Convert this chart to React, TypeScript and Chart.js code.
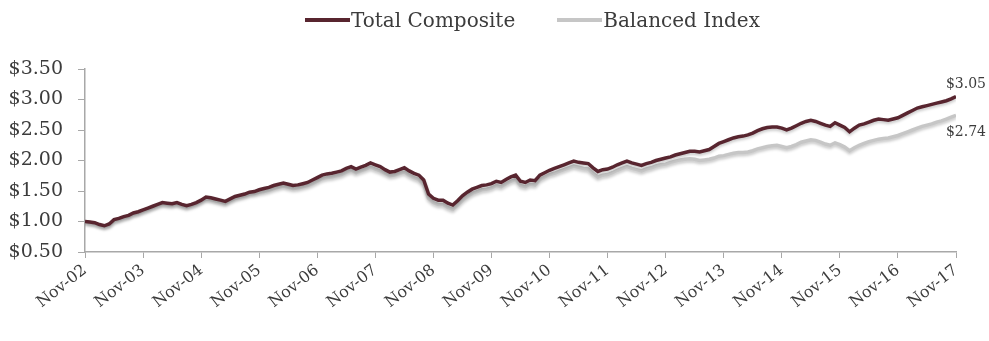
import React, { useEffect, useRef } from "react";
import { Chart, registerables } from "chart.js";

Chart.register(...registerables);

const tickLabels = [
  "Nov-02", "Nov-03", "Nov-04", "Nov-05", "Nov-06", "Nov-07", "Nov-08", "Nov-09",
  "Nov-10", "Nov-11", "Nov-12", "Nov-13", "Nov-14", "Nov-15", "Nov-16", "Nov-17",
];

const seriesNames = ["Total Composite", "Balanced Index"];
const endLabels = ["$3.05", "$2.74"];

// monthly values, Nov-02 .. Nov-17
const totalComposite = [
  1.00, 0.99, 0.98, 0.95, 0.93, 0.96, 1.03, 1.05, 1.08, 1.10, 1.14, 1.16, 1.19,
  1.22, 1.25, 1.28, 1.31, 1.30, 1.29, 1.31, 1.28, 1.26, 1.28, 1.31, 1.35,
  1.40, 1.39, 1.37, 1.35, 1.33, 1.37, 1.41, 1.43, 1.45, 1.48, 1.49, 1.52,
  1.54, 1.56, 1.59, 1.61, 1.63, 1.61, 1.59, 1.60, 1.62, 1.64, 1.68, 1.72,
  1.76, 1.78, 1.79, 1.81, 1.83, 1.87, 1.90, 1.86, 1.89, 1.92, 1.96, 1.93,
  1.90, 1.85, 1.81, 1.82, 1.85, 1.88, 1.83, 1.79, 1.76, 1.68, 1.45, 1.38,
  1.35, 1.35, 1.30, 1.27, 1.34, 1.42, 1.48, 1.53, 1.56, 1.59, 1.60, 1.62,
  1.66, 1.64, 1.69, 1.73, 1.76, 1.66, 1.64, 1.68, 1.67, 1.76, 1.80, 1.84,
  1.87, 1.90, 1.93, 1.96, 1.99, 1.97, 1.96, 1.95, 1.88, 1.82, 1.85, 1.86,
  1.89, 1.93, 1.96, 1.99, 1.96, 1.94, 1.92, 1.95, 1.97, 2.00, 2.02, 2.04,
  2.06, 2.09, 2.11, 2.13, 2.15, 2.15, 2.14, 2.16, 2.18, 2.23, 2.28, 2.31,
  2.34, 2.37, 2.39, 2.40, 2.42, 2.45, 2.49, 2.52, 2.54, 2.55, 2.55, 2.53,
  2.50, 2.53, 2.57, 2.61, 2.64, 2.66, 2.64, 2.61, 2.58, 2.56, 2.62, 2.58,
  2.54, 2.47, 2.53, 2.58, 2.60, 2.63, 2.66, 2.68, 2.67, 2.66, 2.68, 2.70,
  2.74, 2.78, 2.82, 2.86, 2.88, 2.90, 2.92, 2.94, 2.96, 2.98, 3.01, 3.05,
];

const balancedIndex = [
  1.00, 0.98, 0.97, 0.94, 0.92, 0.94, 1.01, 1.03, 1.06, 1.08, 1.12, 1.14, 1.17,
  1.20, 1.23, 1.26, 1.29, 1.28, 1.27, 1.29, 1.26, 1.24, 1.26, 1.29, 1.33,
  1.37, 1.36, 1.34, 1.32, 1.30, 1.34, 1.38, 1.40, 1.42, 1.45, 1.46, 1.48,
  1.49, 1.51, 1.54, 1.56, 1.58, 1.56, 1.54, 1.55, 1.57, 1.59, 1.62, 1.66,
  1.70, 1.72, 1.73, 1.75, 1.77, 1.81, 1.84, 1.80, 1.83, 1.86, 1.89, 1.86,
  1.83, 1.79, 1.75, 1.76, 1.79, 1.81, 1.76, 1.72, 1.69, 1.61, 1.38, 1.31,
  1.28, 1.28, 1.23, 1.20, 1.27, 1.35, 1.41, 1.46, 1.49, 1.52, 1.53, 1.55,
  1.59, 1.57, 1.62, 1.66, 1.69, 1.59, 1.57, 1.61, 1.60, 1.69, 1.73, 1.77,
  1.79, 1.82, 1.85, 1.88, 1.91, 1.89, 1.87, 1.86, 1.79, 1.73, 1.76, 1.77,
  1.80, 1.84, 1.87, 1.90, 1.87, 1.85, 1.83, 1.86, 1.88, 1.91, 1.93, 1.94,
  1.97, 1.99, 2.01, 2.02, 2.03, 2.02, 2.00, 2.01, 2.02, 2.04, 2.07, 2.08,
  2.10, 2.12, 2.13, 2.13, 2.14, 2.16, 2.19, 2.21, 2.23, 2.24, 2.25, 2.23,
  2.21, 2.23, 2.26, 2.30, 2.32, 2.34, 2.33, 2.30, 2.27, 2.25, 2.29, 2.26,
  2.22, 2.16, 2.21, 2.25, 2.28, 2.31, 2.33, 2.35, 2.36, 2.37, 2.39, 2.41,
  2.44, 2.47, 2.50, 2.53, 2.56, 2.58, 2.60, 2.63, 2.65, 2.68, 2.71, 2.74,
];

const colors = ["#58252f", "#c6c6c6"];
const FONT = "'DejaVu Serif', 'Liberation Serif', serif";
const TEXT = "#3c3c3c";
const AXIS = "#a8a8a8";

const shadowPlugin = {
  id: "lineShadow",
  beforeDatasetDraw(chart: any) {
    const ctx = chart.ctx;
    ctx.save();
    ctx.shadowColor = "rgba(0,0,0,0.22)";
    ctx.shadowBlur = 3;
    ctx.shadowOffsetY = 2;
  },
  afterDatasetDraw(chart: any) {
    chart.ctx.restore();
  },
};

const endLabelPlugin = {
  id: "endLabels",
  afterDatasetsDraw(chart: any) {
    const ctx = chart.ctx;
    ctx.save();
    ctx.font = `14px ${FONT}`;
    ctx.fillStyle = TEXT;
    ctx.textAlign = "right";
    ctx.textBaseline = "middle";
    const offsets = [-12, 17];
    chart.data.datasets.forEach((ds: any, i: number) => {
      const meta = chart.getDatasetMeta(i);
      const last = meta.data[meta.data.length - 1];
      if (!last) return;
      ctx.fillText(endLabels[i], chart.width - 3, last.y + offsets[i]);
    });
    ctx.restore();
  },
};

export default function App() {
  const canvasRef = useRef<HTMLCanvasElement | null>(null);

  useEffect(() => {
    if (!canvasRef.current) return;
    const toPoints = (arr: number[]) => arr.map((v, i) => ({ x: i, y: v }));
    const chart = new Chart(canvasRef.current, {
      type: "line",
      data: {
        datasets: [
          {
            label: seriesNames[0],
            data: toPoints(totalComposite),
            borderColor: colors[0],
            backgroundColor: colors[0],
            borderWidth: 3.5,
            pointRadius: 0,
            tension: 0,
          },
          {
            label: seriesNames[1],
            data: toPoints(balancedIndex),
            borderColor: colors[1],
            backgroundColor: colors[1],
            borderWidth: 3.5,
            pointRadius: 0,
            tension: 0,
          },
        ],
      },
      options: {
        responsive: false,
        animation: false,
        devicePixelRatio: 1,
        layout: { padding: { top: 69, right: 33, left: 0, bottom: 0 } },
        plugins: {
          legend: { display: false },
          tooltip: { enabled: false },
        },
        scales: {
          x: {
            type: "linear",
            min: 0,
            max: 180,
            afterFit(scale: any) {
              scale.height = 89;
            },
            border: { color: AXIS, width: 1.5 },
            grid: { drawOnChartArea: false, drawTicks: true, tickLength: 6, color: AXIS },
            ticks: {
              stepSize: 12,
              autoSkip: false,
              maxRotation: 38,
              minRotation: 38,
              padding: 3,
              color: TEXT,
              font: { family: FONT, size: 16 },
              callback: (v: any) => {
                const k = Number(v) / 12;
                return Number.isInteger(k) ? tickLabels[k] : "";
              },
            },
          },
          y: {
            min: 0.5,
            max: 3.5,
            afterFit(scale: any) {
              scale.width = 85;
            },
            border: { color: AXIS, width: 1.5 },
            grid: { drawOnChartArea: false, drawTicks: true, tickLength: 7, color: AXIS },
            ticks: {
              stepSize: 0.5,
              padding: 15,
              color: TEXT,
              font: { family: FONT, size: 19 },
              callback: (v: any) => "$" + Number(v).toFixed(2),
            },
          },
        },
      },
      plugins: [shadowPlugin, endLabelPlugin],
    });
    return () => chart.destroy();
  }, []);

  return (
    <div style={{ position: "fixed", left: 0, top: 0, width: 989, height: 341, background: "#fff" }}>
      <div
        style={{
          position: "absolute",
          left: 305,
          top: 8,
          display: "flex",
          alignItems: "center",
          fontFamily: FONT,
          fontSize: 20,
          color: TEXT,
          whiteSpace: "nowrap",
        }}
      >
        {seriesNames.map((name, i) => (
          <div key={name} style={{ display: "flex", alignItems: "center", marginRight: i === 0 ? 42 : 0 }}>
            <span style={{ display: "inline-block", width: 45, height: 4, background: colors[i], marginRight: 1 }} />
            <span>{name}</span>
          </div>
        ))}
      </div>
      <canvas ref={canvasRef} width={989} height={341} />
    </div>
  );
}
